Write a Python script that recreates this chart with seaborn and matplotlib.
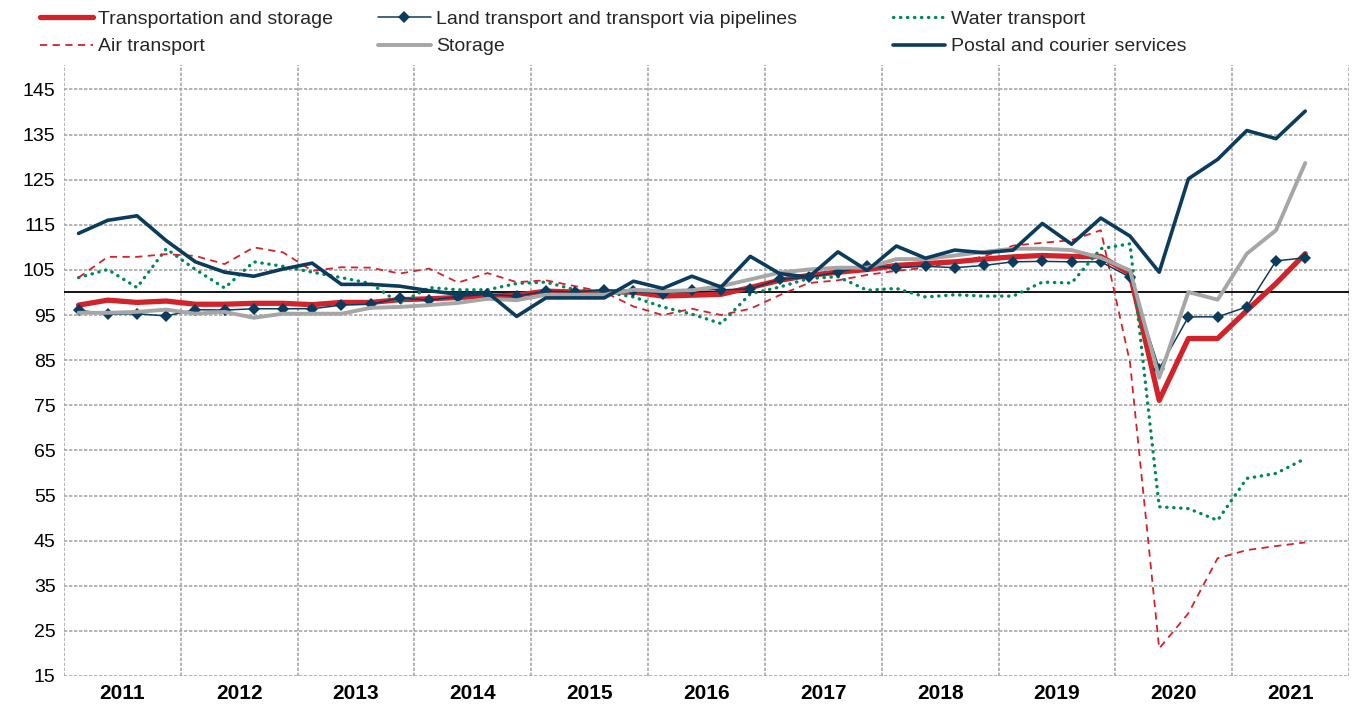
import numpy as np
import pandas as pd
import matplotlib
matplotlib.use("Agg")
import matplotlib.pyplot as plt
import seaborn as sns

years = ["2011", "2012", "2013", "2014", "2015", "2016", "2017", "2018", "2019", "2020", "2021"]

transport_storage = [97.2, 98.3, 97.8, 98.1, 97.4, 97.4, 97.6, 97.6, 97.3, 97.8, 97.8, 98.4, 98.6, 98.9,
                     99.2, 99.4, 100.3, 100.1, 100.1, 100.1, 99.2, 99.4, 99.6, 101.1, 102.7, 103.8, 104.5,
                     105.1, 106.0, 106.4, 106.8, 107.4, 107.9, 108.2, 108.0, 108.0, 104.2, 76.1, 89.8, 89.8,
                     96.0, 102.0, 108.6]
land = [96.1, 95.2, 95.3, 94.8, 96.2, 96.1, 96.4, 96.4, 96.4, 97.2, 97.4, 98.8, 98.3, 99.1,
        99.6, 99.2, 100.3, 100.1, 100.6, 100.3, 99.7, 100.6, 100.6, 100.8, 102.9, 103.4, 104.5,
        105.9, 105.5, 105.8, 105.5, 106.0, 106.8, 106.9, 106.8, 106.8, 103.4, 83.1, 94.6, 94.6,
        96.8, 107.0, 107.7]
water = [103.3, 105.1, 101.1, 109.7, 105.1, 101.0, 106.8, 105.8, 104.5, 103.3, 102.0, 97.6, 101.1, 100.6,
         100.6, 102.0, 102.3, 100.6, 100.1, 99.0, 96.8, 95.2, 93.1, 99.7, 101.2, 103.1, 103.5,
         100.5, 100.9, 99.0, 99.5, 99.2, 99.2, 102.3, 102.1, 109.7, 110.8, 52.5, 52.1, 49.5,
         58.8, 59.9, 63.2]
air = [103.3, 107.9, 107.9, 108.5, 108.1, 106.3, 110.0, 108.9, 104.8, 105.6, 105.5, 104.2, 105.3, 102.2,
       104.3, 102.3, 102.7, 101.4, 100.1, 96.9, 95.0, 96.4, 95.0, 96.4, 99.4, 102.1, 102.7,
       103.9, 104.8, 105.5, 106.8, 108.0, 110.4, 111.0, 111.6, 113.8, 84.5, 21.1, 28.9, 41.1,
       42.9, 43.8, 44.6]
storage = [95.5, 95.5, 95.7, 96.2, 95.3, 95.7, 94.4, 95.3, 95.3, 95.3, 96.6, 96.8, 97.2, 97.7,
           98.6, 98.3, 99.5, 99.5, 99.5, 100.6, 100.3, 100.5, 101.4, 102.9, 104.4, 105.1, 105.5,
           105.5, 107.4, 107.4, 108.2, 109.0, 109.7, 109.7, 109.4, 107.7, 104.9, 81.1, 100.1, 98.4,
           108.6, 113.8, 128.7]
postal = [113.1, 116.0, 117.0, 111.5, 106.8, 104.5, 103.6, 105.2, 106.5, 101.8, 101.8, 101.4, 100.4, 99.6,
          100.0, 94.7, 98.8, 98.8, 98.8, 102.5, 100.9, 103.6, 101.2, 108.0, 104.2, 103.4, 109.0,
          104.9, 110.3, 107.6, 109.4, 108.8, 109.4, 115.3, 110.7, 116.5, 112.5, 104.5, 125.2, 129.5,
          135.9, 134.1, 140.2]
y_ticks = [15, 25, 35, 45, 55, 65, 75, 85, 95, 105, 115, 125, 135, 145]

sns.set_theme(style="white")
plt.rcParams['font.family'] = ['Liberation Sans Narrow', 'Liberation Sans', 'DejaVu Sans']

q = np.arange(len(transport_storage))
fig = plt.figure(figsize=(13.55, 7.17), dpi=100)
ax = fig.add_axes([0.0472, 0.0572, 0.9484, 0.852])

RED = "#D2232A"
NAVY = "#0B3C5D"
GREEN = "#00875A"
GRAY = "#A6A6A6"

# grid
for yt in y_ticks:
    ax.axhline(yt, color="#A8A8A8", lw=1.2, ls=(0, (2, 1)), zorder=0)
for k in range(len(years) + 1):
    ax.axvline(4 * k - 0.5, color="#A8A8A8", lw=1.2, ls=(0, (2, 1)), zorder=0)
ax.axhline(100, color="black", lw=1.3, zorder=1)

sns.lineplot(x=q, y=transport_storage, ax=ax, color=RED, lw=3.8, label="Transportation and storage",
             zorder=3)
sns.lineplot(x=q, y=land, ax=ax, color=NAVY, lw=1.1, marker="D", markersize=6.5, markeredgewidth=0,
             label="Land transport and transport via pipelines", zorder=4)
sns.lineplot(x=q, y=water, ax=ax, color=GREEN, lw=2.4, label="Water transport", zorder=3)
sns.lineplot(x=q, y=air, ax=ax, color=RED, lw=1.3, label="Air transport", zorder=3)
sns.lineplot(x=q, y=storage, ax=ax, color=GRAY, lw=2.8, label="Storage", zorder=4)
sns.lineplot(x=q, y=postal, ax=ax, color=NAVY, lw=2.6, label="Postal and courier services", zorder=5)

for ln in ax.get_lines():
    if ln.get_label() == "Water transport":
        ln.set_linestyle((0, (0.1, 2.0)))
        ln.set_dash_capstyle("round")
    if ln.get_label() == "Air transport":
        ln.set_linestyle((0, (4, 3)))

ax.set_xlim(-0.5, 4 * len(years) - 0.5)
ax.set_ylim(15, 150.4)
ax.set_yticks(y_ticks)
ax.set_yticklabels([str(v) for v in y_ticks], fontsize=14)
ax.set_xticks([4 * k + 1.5 for k in range(len(years))])
ax.set_xticklabels(years, fontsize=15, fontweight="bold")
ax.tick_params(axis="both", length=0, pad=6, colors="black")
for s in ax.spines.values():
    s.set_visible(False)

handles, labels = ax.get_legend_handles_labels()
hmap = dict(zip(labels, handles))
ax.get_legend().remove()
cols = [(["Transportation and storage", "Air transport"], 40),
        (["Land transport and transport via pipelines", "Storage"], 378),
        (["Water transport", "Postal and courier services"], 893)]
W, H = 1355.0, 717.0
for names, xpx in cols:
    lg = fig.legend([hmap[n] for n in names], names, loc="upper left",
                    bbox_to_anchor=(xpx / W, 1 - 10 / H), frameon=False, fontsize=14,
                    handlelength=2.7, handletextpad=0.3, labelspacing=0.52, borderpad=0,
                    borderaxespad=0)
fig.savefig("out.png", dpi=100)
